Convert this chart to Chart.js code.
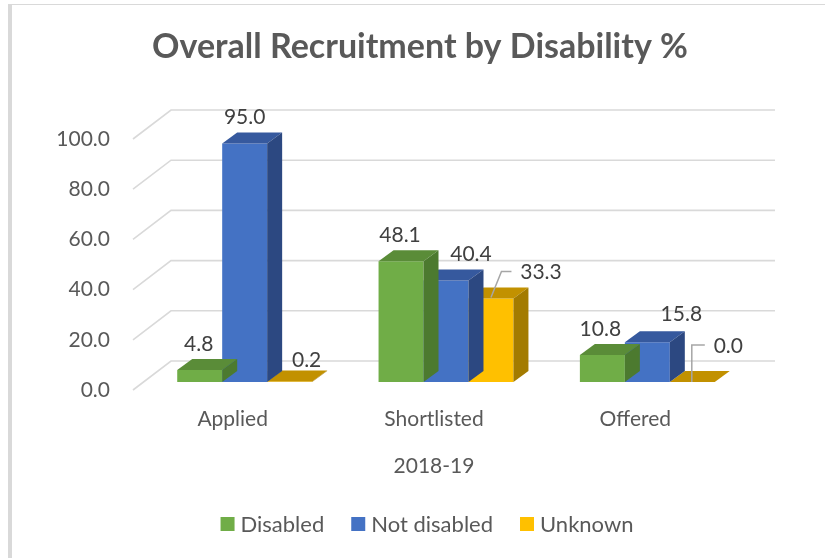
<!DOCTYPE html>
<html><head><meta charset="utf-8">
<script src="https://cdn.jsdelivr.net/npm/chart.js@4.4.1/dist/chart.umd.min.js"></script>
<style>html,body{margin:0;padding:0;background:#fff;}canvas{display:block;}</style>
</head><body>
<canvas id="c" width="825" height="558"></canvas>
<script>
// ---- data ----
const categories = ['Applied', 'Shortlisted', 'Offered'];
const axisTitle = '2018-19';
const seriesNames = ['Disabled', 'Not disabled', 'Unknown'];
const disabled = [4.8, 48.1, 10.8];
const notDisabled = [95.0, 40.4, 15.8];
const unknown = [0.2, 33.3, 0.0];
const yTickLabels = ['0.0', '20.0', '40.0', '60.0', '80.0', '100.0'];
const titleText = 'Overall Recruitment by Disability %';

// ---- style ----
const FONT = 'Lato, "Noto Sans", sans-serif';
const TXT = '#595959';
const frontColors = ['#70AD47', '#4472C4', '#FFC000'];
const topColors = ['#5A8C38', '#36599E', '#C29100'];
const sideColors = ['#4C7A2F', '#2C4881', '#A37B00'];
const DEPTH = {dx: 15, dy: -11};
const WALL = {front: {dx: -11, dy: 8}, back: {dx: 27, dy: -21}};
const labelOffsets = [
  [[-1, -26], [-1, -26], [-2, -26]],
  [[0, -26], [25, -26], [34, -28]],
  [[17, -21], [50, -26], [36, -36]]
];
const leaders = [
  [null, null, null],
  [null, null, null],
  [null, [[0, -1], [10.5, -27], [20.5, -27]], [[-0.5, 0], [-0.5, -37], [12.5, -37]]]
];

const frame = {
  id: 'frame',
  beforeDraw(chart) {
    const ctx = chart.ctx;
    ctx.save();
    ctx.fillStyle = '#D9D9D9';
    ctx.fillRect(8, 4, 4, 554);
    ctx.fillRect(8, 4, 817, 1);
    // chart title
    ctx.fillStyle = TXT;
    ctx.font = 'bold 34px ' + FONT;
    ctx.textAlign = 'center';
    ctx.textBaseline = 'middle';
    ctx.fillText(titleText, 420, 47);
    ctx.restore();
  }
};

const walls = {
  id: 'walls',
  beforeDatasetsDraw(chart) {
    const ctx = chart.ctx, ys = chart.scales.y, a = chart.chartArea;
    ctx.save();
    ctx.strokeStyle = '#D9D9D9';
    ctx.lineWidth = 1.6;
    ctx.beginPath();
    ys.ticks.forEach(t => {
      const y = ys.getPixelForValue(t.value);
      ctx.moveTo(a.left + WALL.front.dx, y + WALL.front.dy);
      ctx.lineTo(a.left + WALL.back.dx, y + WALL.back.dy);
      ctx.lineTo(a.right + WALL.back.dx, y + WALL.back.dy);
    });
    ctx.stroke();
    ctx.restore();
  }
};

const bars3d = {
  id: 'bars3d',
  afterDatasetDraw(chart, args) {
    const ctx = chart.ctx, i = args.index;
    ctx.save();
    args.meta.data.forEach(bar => {
      const l = bar.x - bar.width / 2, r = bar.x + bar.width / 2;
      const t = bar.y, b = bar.base;
      ctx.fillStyle = topColors[i];
      ctx.beginPath();
      ctx.moveTo(l, t); ctx.lineTo(r, t);
      ctx.lineTo(r + DEPTH.dx, t + DEPTH.dy); ctx.lineTo(l + DEPTH.dx, t + DEPTH.dy);
      ctx.closePath(); ctx.fill();
      ctx.fillStyle = sideColors[i];
      ctx.beginPath();
      ctx.moveTo(r, t); ctx.lineTo(r + DEPTH.dx, t + DEPTH.dy);
      ctx.lineTo(r + DEPTH.dx, b + DEPTH.dy); ctx.lineTo(r, b);
      ctx.closePath(); ctx.fill();
    });
    ctx.restore();
  }
};

const labels = {
  id: 'labels',
  afterDatasetsDraw(chart) {
    const ctx = chart.ctx, a = chart.chartArea;
    ctx.save();
    // data labels
    ctx.font = '21px ' + FONT;
    ctx.textAlign = 'center';
    ctx.textBaseline = 'middle';
    chart.data.datasets.forEach((ds, i) => {
      chart.getDatasetMeta(i).data.forEach((bar, j) => {
        const o = labelOffsets[i][j];
        const ld = leaders[i][j];
        if (ld) {
          ctx.strokeStyle = '#A6A6A6';
          ctx.lineWidth = 1.5;
          ctx.beginPath();
          ld.forEach((p, k) => {
            const px = bar.x + p[0], py = bar.y + p[1];
            if (k === 0) ctx.moveTo(px, py); else ctx.lineTo(px, py);
          });
          ctx.stroke();
        }
        ctx.fillStyle = '#404040';
        ctx.fillText(ds.data[j].toFixed(1), bar.x + o[0], bar.y + o[1]);
      });
    });
    // axis title
    ctx.fillStyle = TXT;
    ctx.font = '21px ' + FONT;
    ctx.fillText(axisTitle, (a.left + a.right) / 2 + WALL.front.dx - 1, 466);
    // legend
    ctx.font = '22px ' + FONT;
    const box = 14, gap = 6, sep = 27;
    const items = chart.data.datasets.map(ds => ({text: ds.label, color: ds.backgroundColor, w: ctx.measureText(ds.label).width}));
    let total = items.reduce((s, it) => s + box + gap + it.w, 0) + sep * (items.length - 1);
    let x = 427 - total / 2;
    const y = 524;
    ctx.textAlign = 'left';
    items.forEach(it => {
      ctx.fillStyle = it.color;
      ctx.fillRect(x, y - box / 2, box, box);
      ctx.fillStyle = TXT;
      ctx.fillText(it.text, x + box + gap, y + 1);
      x += box + gap + it.w + sep;
    });
    ctx.restore();
  }
};

new Chart(document.getElementById('c'), {
  type: 'bar',
  data: {
    labels: categories,
    datasets: [
      {label: seriesNames[0], data: disabled, backgroundColor: frontColors[0]},
      {label: seriesNames[1], data: notDisabled, backgroundColor: frontColors[1]},
      {label: seriesNames[2], data: unknown, backgroundColor: frontColors[2]}
    ]
  },
  options: {
    responsive: false,
    devicePixelRatio: 1,
    animation: false,
    layout: {padding: {left: 20, right: 77, top: 131, bottom: 0}},
    datasets: {bar: {categoryPercentage: 0.67, barPercentage: 1.0, borderWidth: 0}},
    plugins: {
      legend: {display: false},
      tooltip: {enabled: false},
      title: {display: false}
    },
    scales: {
      x: {
        grid: {display: false, drawTicks: false},
        border: {display: false},
        ticks: {color: TXT, font: {family: FONT, size: 21}, padding: 25, labelOffset: -12},
        afterFit(s) { s.height = 176; }
      },
      y: {
        min: 0, max: 100,
        grid: {display: false, drawTicks: false},
        border: {display: false},
        ticks: {stepSize: 20, color: TXT, font: {family: FONT, size: 21}, padding: 34, labelOffset: 8,
          callback: (v, i) => yTickLabels[i]},
        afterFit(s) { s.width = 124; }
      }
    }
  },
  plugins: [frame, walls, bars3d, labels]
});
</script>
</body></html>
